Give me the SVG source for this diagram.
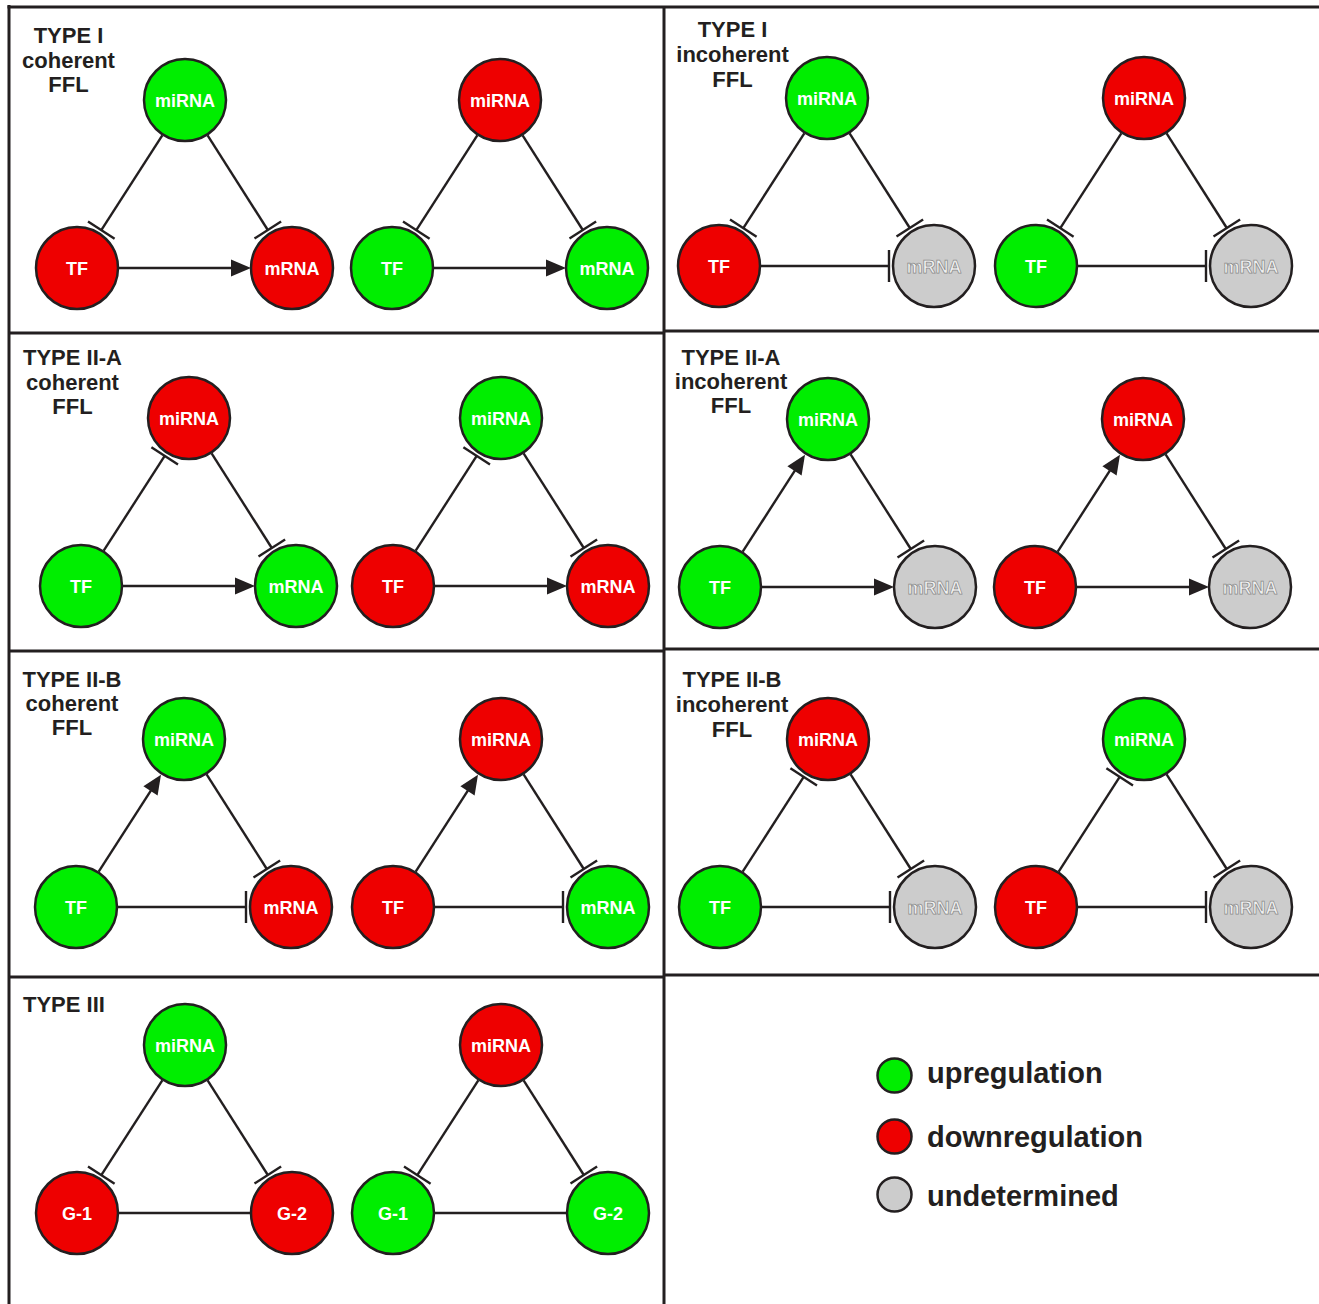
<svg xmlns="http://www.w3.org/2000/svg" width="1319" height="1304" viewBox="0 0 1319 1304">
  <style>
    .frame { fill: none; stroke: #231f20; stroke-width: 3; }
    .title { font-family: "Liberation Sans", Arial, sans-serif; font-weight: bold; font-size: 22px; fill: #231f20; text-anchor: middle; }
    .node circle { stroke: #231f20; stroke-width: 2.5; }
    .up { fill: #00ee00; }
    .down { fill: #ee0000; }
    .und { fill: #cccccc; }
    .node text { font-family: "Liberation Sans", Arial, sans-serif; font-weight: bold; font-size: 18px; fill: #ffffff; text-anchor: middle; }
    .node.und-node text { fill: #f2f2f2; stroke: #8a8a8a; stroke-width: 0.75; }
    .edge line { stroke: #231f20; stroke-width: 2.4; fill: none; }
    .edge polygon { fill: #231f20; stroke: none; }
    .legend text { font-family: "Liberation Sans", Arial, sans-serif; font-weight: bold; font-size: 29px; fill: #231f20; }
  </style>

  <rect x="0" y="0" width="1319" height="1304" fill="#ffffff"/>

  <!-- panel grid -->
  <g id="grid" class="frame">
    <line x1="9" y1="5" x2="9" y2="1304"/>
    <line x1="7.5" y1="7" x2="1319" y2="7"/>
    <line x1="664" y1="7" x2="664" y2="1304"/>
    <line x1="9" y1="333" x2="664" y2="333"/>
    <line x1="664" y1="331" x2="1319" y2="331"/>
    <line x1="9" y1="651" x2="664" y2="651"/>
    <line x1="664" y1="649" x2="1319" y2="649"/>
    <line x1="9" y1="977" x2="664" y2="977"/>
    <line x1="664" y1="975" x2="1319" y2="975"/>
  </g>

  <!-- panel titles -->
  <g id="titles">
    <text class="title" x="68.5" y="43">TYPE I</text>
    <text class="title" x="68.5" y="67.5">coherent</text>
    <text class="title" x="68.5" y="92">FFL</text>

    <text class="title" x="732.5" y="36.5">TYPE I</text>
    <text class="title" x="732.5" y="62">incoherent</text>
    <text class="title" x="732.5" y="86.5">FFL</text>

    <text class="title" x="72.5" y="365">TYPE II-A</text>
    <text class="title" x="72.5" y="390">coherent</text>
    <text class="title" x="72.5" y="414">FFL</text>

    <text class="title" x="731" y="365">TYPE II-A</text>
    <text class="title" x="731" y="389">incoherent</text>
    <text class="title" x="731" y="413">FFL</text>

    <text class="title" x="72" y="686.5">TYPE II-B</text>
    <text class="title" x="72" y="711">coherent</text>
    <text class="title" x="72" y="735">FFL</text>

    <text class="title" x="732" y="687">TYPE II-B</text>
    <text class="title" x="732" y="712">incoherent</text>
    <text class="title" x="732" y="736.5">FFL</text>

    <text class="title" x="23" y="1011.5" style="text-anchor:start">TYPE III</text>
  </g>

  <!-- connectors, one group per loop, relative to the miRNA centre -->
  <g id="connectors" class="edge">
    <!-- Type I coherent -->
    <g transform="translate(185,100)">
      <line x1="-22.7" y1="35.3" x2="-83.7" y2="130.1"/><line x1="-97" y1="121.5" x2="-70.4" y2="138.7"/>
      <line x1="22.6" y1="35.4" x2="82.8" y2="130"/><line x1="96.1" y1="121.5" x2="69.5" y2="138.5"/>
      <line x1="-66" y1="168" x2="47" y2="168"/><polygon points="66,168 46,159.5 46,176.5"/>
    </g>
    <g transform="translate(500,100)">
      <line x1="-22.7" y1="35.3" x2="-83.7" y2="130.1"/><line x1="-97" y1="121.5" x2="-70.4" y2="138.7"/>
      <line x1="22.6" y1="35.4" x2="82.8" y2="130"/><line x1="96.1" y1="121.5" x2="69.5" y2="138.5"/>
      <line x1="-66" y1="168" x2="47" y2="168"/><polygon points="66,168 46,159.5 46,176.5"/>
    </g>
    <!-- Type I incoherent -->
    <g transform="translate(827,98)">
      <line x1="-22.7" y1="35.3" x2="-83.7" y2="130.1"/><line x1="-97" y1="121.5" x2="-70.4" y2="138.7"/>
      <line x1="22.6" y1="35.4" x2="82.8" y2="130"/><line x1="96.1" y1="121.5" x2="69.5" y2="138.5"/>
      <line x1="-66" y1="168" x2="62" y2="168"/><line x1="62" y1="152" x2="62" y2="184"/>
    </g>
    <g transform="translate(1144,98)">
      <line x1="-22.7" y1="35.3" x2="-83.7" y2="130.1"/><line x1="-97" y1="121.5" x2="-70.4" y2="138.7"/>
      <line x1="22.6" y1="35.4" x2="82.8" y2="130"/><line x1="96.1" y1="121.5" x2="69.5" y2="138.5"/>
      <line x1="-66" y1="168" x2="62" y2="168"/><line x1="62" y1="152" x2="62" y2="184"/>
    </g>
    <!-- Type II-A coherent -->
    <g transform="translate(189,418)">
      <line x1="-85.3" y1="132.7" x2="-24.3" y2="37.9"/><line x1="-37.6" y1="29.3" x2="-11" y2="46.5"/>
      <line x1="22.6" y1="35.4" x2="82.8" y2="130"/><line x1="96.1" y1="121.5" x2="69.5" y2="138.5"/>
      <line x1="-66" y1="168" x2="47" y2="168"/><polygon points="66,168 46,159.5 46,176.5"/>
    </g>
    <g transform="translate(501,418)">
      <line x1="-85.3" y1="132.7" x2="-24.3" y2="37.9"/><line x1="-37.6" y1="29.3" x2="-11" y2="46.5"/>
      <line x1="22.6" y1="35.4" x2="82.8" y2="130"/><line x1="96.1" y1="121.5" x2="69.5" y2="138.5"/>
      <line x1="-66" y1="168" x2="47" y2="168"/><polygon points="66,168 46,159.5 46,176.5"/>
    </g>
    <!-- Type II-A incoherent -->
    <g transform="translate(828,419)">
      <line x1="-85.3" y1="132.7" x2="-33" y2="51.3"/><polygon points="-23,35.7 -26.4,56.5 -40.6,47.3"/>
      <line x1="22.6" y1="35.4" x2="82.8" y2="130"/><line x1="96.1" y1="121.5" x2="69.5" y2="138.5"/>
      <line x1="-66" y1="168" x2="47" y2="168"/><polygon points="66,168 46,159.5 46,176.5"/>
    </g>
    <g transform="translate(1143,419)">
      <line x1="-85.3" y1="132.7" x2="-33" y2="51.3"/><polygon points="-23,35.7 -26.4,56.5 -40.6,47.3"/>
      <line x1="22.6" y1="35.4" x2="82.8" y2="130"/><line x1="96.1" y1="121.5" x2="69.5" y2="138.5"/>
      <line x1="-66" y1="168" x2="47" y2="168"/><polygon points="66,168 46,159.5 46,176.5"/>
    </g>
    <!-- Type II-B coherent -->
    <g transform="translate(184,739)">
      <line x1="-85.3" y1="132.7" x2="-33" y2="51.3"/><polygon points="-23,35.7 -26.4,56.5 -40.6,47.3"/>
      <line x1="22.6" y1="35.4" x2="82.8" y2="130"/><line x1="96.1" y1="121.5" x2="69.5" y2="138.5"/>
      <line x1="-66" y1="168" x2="62" y2="168"/><line x1="62" y1="152" x2="62" y2="184"/>
    </g>
    <g transform="translate(501,739)">
      <line x1="-85.3" y1="132.7" x2="-33" y2="51.3"/><polygon points="-23,35.7 -26.4,56.5 -40.6,47.3"/>
      <line x1="22.6" y1="35.4" x2="82.8" y2="130"/><line x1="96.1" y1="121.5" x2="69.5" y2="138.5"/>
      <line x1="-66" y1="168" x2="62" y2="168"/><line x1="62" y1="152" x2="62" y2="184"/>
    </g>
    <!-- Type II-B incoherent -->
    <g transform="translate(828,739)">
      <line x1="-85.3" y1="132.7" x2="-24.3" y2="37.9"/><line x1="-37.6" y1="29.3" x2="-11" y2="46.5"/>
      <line x1="22.6" y1="35.4" x2="82.8" y2="130"/><line x1="96.1" y1="121.5" x2="69.5" y2="138.5"/>
      <line x1="-66" y1="168" x2="62" y2="168"/><line x1="62" y1="152" x2="62" y2="184"/>
    </g>
    <g transform="translate(1144,739)">
      <line x1="-85.3" y1="132.7" x2="-24.3" y2="37.9"/><line x1="-37.6" y1="29.3" x2="-11" y2="46.5"/>
      <line x1="22.6" y1="35.4" x2="82.8" y2="130"/><line x1="96.1" y1="121.5" x2="69.5" y2="138.5"/>
      <line x1="-66" y1="168" x2="62" y2="168"/><line x1="62" y1="152" x2="62" y2="184"/>
    </g>
    <!-- Type III -->
    <g transform="translate(185,1045)">
      <line x1="-22.7" y1="35.3" x2="-83.7" y2="130.1"/><line x1="-97" y1="121.5" x2="-70.4" y2="138.7"/>
      <line x1="22.6" y1="35.4" x2="82.8" y2="130"/><line x1="96.1" y1="121.5" x2="69.5" y2="138.5"/>
      <line x1="-66" y1="168" x2="66" y2="168"/>
    </g>
    <g transform="translate(501,1045)">
      <line x1="-22.7" y1="35.3" x2="-83.7" y2="130.1"/><line x1="-97" y1="121.5" x2="-70.4" y2="138.7"/>
      <line x1="22.6" y1="35.4" x2="82.8" y2="130"/><line x1="96.1" y1="121.5" x2="69.5" y2="138.5"/>
      <line x1="-66" y1="168" x2="66" y2="168"/>
    </g>
  </g>

  <!-- nodes -->
  <g id="nodes">
    <!-- Type I coherent -->
    <g id="t1c-a-mirna" class="node" transform="translate(185,100)"><circle r="41" class="up"/><text y="6.5">miRNA</text></g>
    <g id="t1c-a-tf" class="node" transform="translate(77,268)"><circle r="41" class="down"/><text y="6.5">TF</text></g>
    <g id="t1c-a-mrna" class="node" transform="translate(292,268)"><circle r="41" class="down"/><text y="6.5">mRNA</text></g>
    <g id="t1c-b-mirna" class="node" transform="translate(500,100)"><circle r="41" class="down"/><text y="6.5">miRNA</text></g>
    <g id="t1c-b-tf" class="node" transform="translate(392,268)"><circle r="41" class="up"/><text y="6.5">TF</text></g>
    <g id="t1c-b-mrna" class="node" transform="translate(607,268)"><circle r="41" class="up"/><text y="6.5">mRNA</text></g>
    <!-- Type I incoherent -->
    <g id="t1i-a-mirna" class="node" transform="translate(827,98)"><circle r="41" class="up"/><text y="6.5">miRNA</text></g>
    <g id="t1i-a-tf" class="node" transform="translate(719,266)"><circle r="41" class="down"/><text y="6.5">TF</text></g>
    <g id="t1i-a-mrna" class="node und-node" transform="translate(934,266)"><circle r="41" class="und"/><text y="6.5">mRNA</text></g>
    <g id="t1i-b-mirna" class="node" transform="translate(1144,98)"><circle r="41" class="down"/><text y="6.5">miRNA</text></g>
    <g id="t1i-b-tf" class="node" transform="translate(1036,266)"><circle r="41" class="up"/><text y="6.5">TF</text></g>
    <g id="t1i-b-mrna" class="node und-node" transform="translate(1251,266)"><circle r="41" class="und"/><text y="6.5">mRNA</text></g>
    <!-- Type II-A coherent -->
    <g id="t2ac-a-mirna" class="node" transform="translate(189,418)"><circle r="41" class="down"/><text y="6.5">miRNA</text></g>
    <g id="t2ac-a-tf" class="node" transform="translate(81,586)"><circle r="41" class="up"/><text y="6.5">TF</text></g>
    <g id="t2ac-a-mrna" class="node" transform="translate(296,586)"><circle r="41" class="up"/><text y="6.5">mRNA</text></g>
    <g id="t2ac-b-mirna" class="node" transform="translate(501,418)"><circle r="41" class="up"/><text y="6.5">miRNA</text></g>
    <g id="t2ac-b-tf" class="node" transform="translate(393,586)"><circle r="41" class="down"/><text y="6.5">TF</text></g>
    <g id="t2ac-b-mrna" class="node" transform="translate(608,586)"><circle r="41" class="down"/><text y="6.5">mRNA</text></g>
    <!-- Type II-A incoherent -->
    <g id="t2ai-a-mirna" class="node" transform="translate(828,419)"><circle r="41" class="up"/><text y="6.5">miRNA</text></g>
    <g id="t2ai-a-tf" class="node" transform="translate(720,587)"><circle r="41" class="up"/><text y="6.5">TF</text></g>
    <g id="t2ai-a-mrna" class="node und-node" transform="translate(935,587)"><circle r="41" class="und"/><text y="6.5">mRNA</text></g>
    <g id="t2ai-b-mirna" class="node" transform="translate(1143,419)"><circle r="41" class="down"/><text y="6.5">miRNA</text></g>
    <g id="t2ai-b-tf" class="node" transform="translate(1035,587)"><circle r="41" class="down"/><text y="6.5">TF</text></g>
    <g id="t2ai-b-mrna" class="node und-node" transform="translate(1250,587)"><circle r="41" class="und"/><text y="6.5">mRNA</text></g>
    <!-- Type II-B coherent -->
    <g id="t2bc-a-mirna" class="node" transform="translate(184,739)"><circle r="41" class="up"/><text y="6.5">miRNA</text></g>
    <g id="t2bc-a-tf" class="node" transform="translate(76,907)"><circle r="41" class="up"/><text y="6.5">TF</text></g>
    <g id="t2bc-a-mrna" class="node" transform="translate(291,907)"><circle r="41" class="down"/><text y="6.5">mRNA</text></g>
    <g id="t2bc-b-mirna" class="node" transform="translate(501,739)"><circle r="41" class="down"/><text y="6.5">miRNA</text></g>
    <g id="t2bc-b-tf" class="node" transform="translate(393,907)"><circle r="41" class="down"/><text y="6.5">TF</text></g>
    <g id="t2bc-b-mrna" class="node" transform="translate(608,907)"><circle r="41" class="up"/><text y="6.5">mRNA</text></g>
    <!-- Type II-B incoherent -->
    <g id="t2bi-a-mirna" class="node" transform="translate(828,739)"><circle r="41" class="down"/><text y="6.5">miRNA</text></g>
    <g id="t2bi-a-tf" class="node" transform="translate(720,907)"><circle r="41" class="up"/><text y="6.5">TF</text></g>
    <g id="t2bi-a-mrna" class="node und-node" transform="translate(935,907)"><circle r="41" class="und"/><text y="6.5">mRNA</text></g>
    <g id="t2bi-b-mirna" class="node" transform="translate(1144,739)"><circle r="41" class="up"/><text y="6.5">miRNA</text></g>
    <g id="t2bi-b-tf" class="node" transform="translate(1036,907)"><circle r="41" class="down"/><text y="6.5">TF</text></g>
    <g id="t2bi-b-mrna" class="node und-node" transform="translate(1251,907)"><circle r="41" class="und"/><text y="6.5">mRNA</text></g>
    <!-- Type III -->
    <g id="t3-a-mirna" class="node" transform="translate(185,1045)"><circle r="41" class="up"/><text y="6.5">miRNA</text></g>
    <g id="t3-a-g1" class="node" transform="translate(77,1213)"><circle r="41" class="down"/><text y="6.5">G-1</text></g>
    <g id="t3-a-g2" class="node" transform="translate(292,1213)"><circle r="41" class="down"/><text y="6.5">G-2</text></g>
    <g id="t3-b-mirna" class="node" transform="translate(501,1045)"><circle r="41" class="down"/><text y="6.5">miRNA</text></g>
    <g id="t3-b-g1" class="node" transform="translate(393,1213)"><circle r="41" class="up"/><text y="6.5">G-1</text></g>
    <g id="t3-b-g2" class="node" transform="translate(608,1213)"><circle r="41" class="up"/><text y="6.5">G-2</text></g>
  </g>

  <!-- legend -->
  <g id="legend" class="legend">
    <g id="legend-up" class="node"><circle cx="894.5" cy="1075.5" r="17" class="up"/><text x="927" y="1083" style="fill:#231f20;font-size:29px;text-anchor:start">upregulation</text></g>
    <g id="legend-down" class="node"><circle cx="894.5" cy="1136.5" r="17" class="down"/><text x="927" y="1147" style="fill:#231f20;font-size:29px;text-anchor:start">downregulation</text></g>
    <g id="legend-und" class="node"><circle cx="894.5" cy="1194.5" r="17" class="und"/><text x="927" y="1205.5" style="fill:#231f20;font-size:29px;text-anchor:start">undetermined</text></g>
  </g>
</svg>
